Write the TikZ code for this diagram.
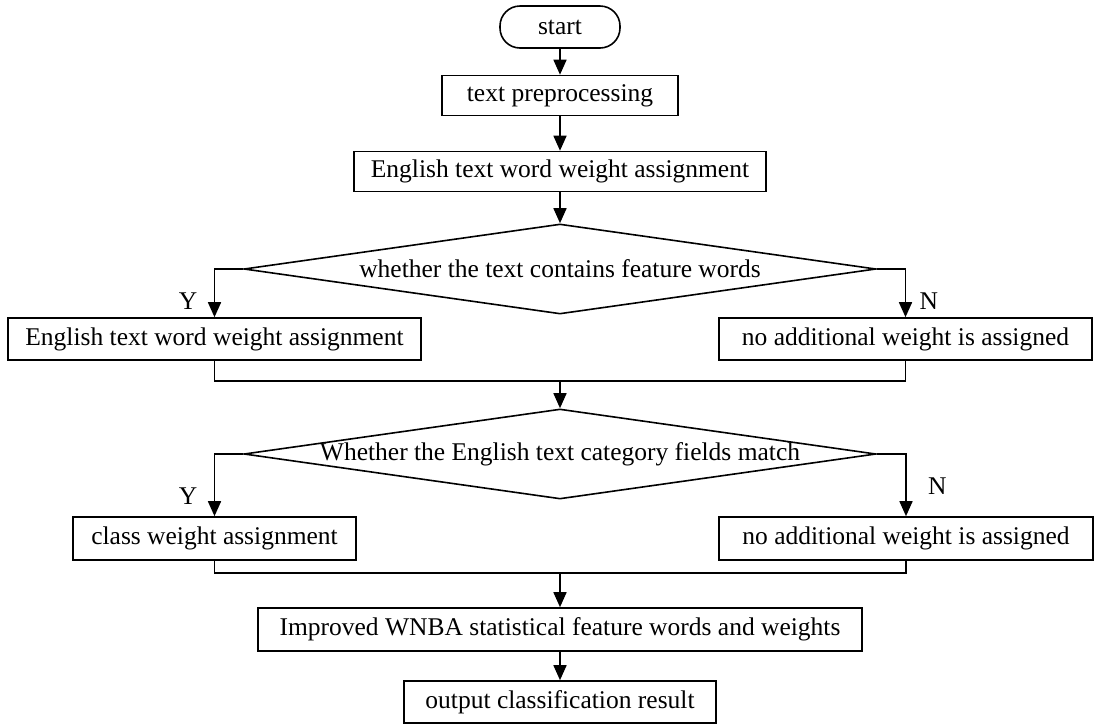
\documentclass[tikz,border=0pt]{standalone}
\usepackage{fontspec}
\setmainfont{Liberation Serif}
\usetikzlibrary{arrows.meta, shapes.geometric, positioning}

\begin{document}
\begin{tikzpicture}[%
        x = 1pt,
        y = -1pt,
        line width = 1.6pt,
        > = {Triangle[width = 13pt, length = 15pt]},
        font = \fontsize{25.5}{30}\selectfont,
        process/.style = {draw, rectangle, minimum height = 40pt, inner sep = 0pt},
        terminal/.style = {draw, rectangle, rounded corners = 20pt,
            minimum width = 120pt, minimum height = 42pt, inner sep = 0pt},
        decision/.style = {draw, diamond, aspect = 7, minimum width = 632pt,
            minimum height = 90pt, inner sep = 0pt},
    ]

        \useasboundingbox (0, 0) rectangle (1096, 724);

        % Main column.
        \node[terminal] (start) at (560, 27) {start};
        \node[process, minimum width = 236pt] (prep) at (560, 95.5) {text preprocessing};
        \node[process, minimum width = 412pt] (weight) at (560, 171.5)
            {English text word weight assignment};

        % First decision and its two branches.
        \node[decision] (feat) at (560, 269)
            {\makebox[0pt]{whether the text contains feature words}};
        \node[process, minimum width = 413pt, minimum height = 42pt] (featyes)
            at (214.5, 339) {English text word weight assignment};
        \node[process, minimum width = 373pt, minimum height = 42pt] (featno)
            at (905.5, 339) {no additional weight is assigned};
        \coordinate (featjoin) at (560, 381);

        % Second decision and its two branches.
        \node[decision] (cat) at (560, 454)
            {\makebox[0pt]{Whether the English text category fields match}};
        \node[process, minimum width = 283pt, minimum height = 43pt] (catyes)
            at (214.5, 538.5) {class weight assignment};
        \node[process, minimum width = 374pt, minimum height = 43pt] (catno)
            at (906, 538.5) {no additional weight is assigned};
        \coordinate (catjoin) at (560, 573);

        % Last two steps.
        \node[process, minimum width = 604pt, minimum height = 43pt] (improved)
            at (560, 629.5) {Improved WNBA statistical feature words and weights};
        \node[process, minimum width = 312pt, minimum height = 42pt] (result)
            at (560, 702) {output classification result};

        % Draw the arrows of the main column.
        \draw[->] (start) to (prep);
        \draw[->] (prep) to (weight);
        \draw[->] (weight) to (feat);

        % Draw the branches of the first decision.
        \draw[->] (feat.west) -| node [pos = 0.83, left = 13pt] {Y} (featyes.north);
        \draw[->] (feat.east) -| node [pos = 0.83, right = 10pt] {N} (featno.north);
        \draw (featyes.south) |- (featjoin) -| (featno.south);
        \draw[->] (featjoin) to (cat);

        % Draw the branches of the second decision.
        \draw[->] (cat.west) -| node [pos = 0.84, left = 13pt] {Y} (catyes.north);
        \draw[->] (cat.east) -| node [pos = 0.76, right = 18pt] {N} (catno.north);
        \draw (catyes.south) |- (catjoin) -| (catno.south);
        \draw[->] (catjoin) to (improved);
        \draw[->] (improved) to (result);
    \end{tikzpicture}
\end{document}
